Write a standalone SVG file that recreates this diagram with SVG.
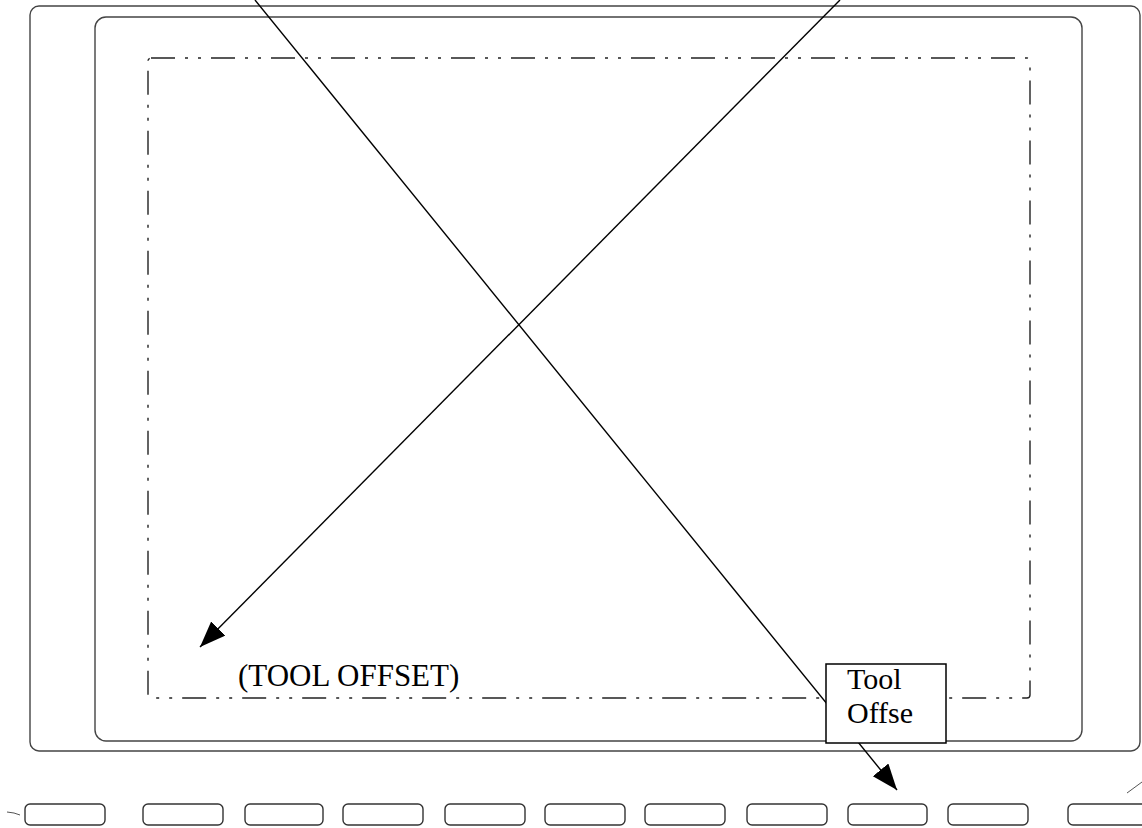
<svg xmlns="http://www.w3.org/2000/svg" width="1142" height="828" viewBox="0 0 1142 828">
<style>
.frame{fill:none;stroke:#444;stroke-width:1.4}
.dashdot{fill:none;stroke:#222;stroke-width:1.4;stroke-dasharray:24 10 3 10 3 10}
.key{fill:none;stroke:#333;stroke-width:1.4}
.arrow{fill:none;stroke:#000;stroke-width:1.4}
.lbl{fill:#000}
</style>
<defs>
<marker id="ah" markerUnits="userSpaceOnUse" markerWidth="28" markerHeight="22" refX="26" refY="10" orient="auto">
<path d="M0,0 L26,10 L0,20 Z" fill="#000"/>
</marker>
</defs>
<rect width="1142" height="828" fill="#fff"/>
<g id="outer-frame"><rect class="frame" x="30" y="6" width="1110" height="745" rx="9"/></g>
<g id="inner-frame"><rect class="frame" x="95" y="17" width="987" height="724" rx="11"/></g>
<g id="screen-area"><rect class="dashdot" x="148" y="58" width="882" height="640" rx="3"/></g>
<g id="soft-keys">
<rect class="key" x="25" y="804" width="80" height="21" rx="5"/>
<rect class="key" x="143" y="804" width="80" height="21" rx="5"/>
<rect class="key" x="245" y="804" width="78" height="21" rx="5"/>
<rect class="key" x="343" y="804" width="80" height="21" rx="5"/>
<rect class="key" x="445" y="804" width="80" height="21" rx="5"/>
<rect class="key" x="545" y="804" width="80" height="21" rx="5"/>
<rect class="key" x="645" y="804" width="80" height="21" rx="5"/>
<rect class="key" x="747" y="804" width="80" height="21" rx="5"/>
<rect class="key" x="848" y="804" width="79" height="21" rx="5"/>
<rect class="key" x="948" y="804" width="80" height="21" rx="5"/>
<rect class="key" x="1068" y="804" width="80" height="21" rx="5"/>
</g>
<g id="connectors">
<line class="arrow" x1="255" y1="0" x2="897" y2="790" marker-end="url(#ah)"/>
<line class="arrow" x1="840" y1="0" x2="200" y2="647" marker-end="url(#ah)"/>
<path d="M7,812 L14,813 L20,815" fill="none" stroke="#555" stroke-width="1"/>
<path d="M1127,793 L1142,782" fill="none" stroke="#555" stroke-width="1"/>
</g>
<g id="label-tool-offset"><text class="lbl" x="238" y="686" font-family="Liberation Serif, Times New Roman, serif" font-size="31">(TOOL OFFSET)</text></g>
<g id="callout-box">
<rect x="826" y="664" width="120" height="79" fill="#fff" stroke="#000" stroke-width="1.5"/>
<text class="lbl" x="847" y="689" font-family="Liberation Serif, Times New Roman, serif" font-size="30">Tool</text>
<text class="lbl" x="847" y="723" font-family="Liberation Serif, Times New Roman, serif" font-size="30">Offse</text>
</g>
</svg>
